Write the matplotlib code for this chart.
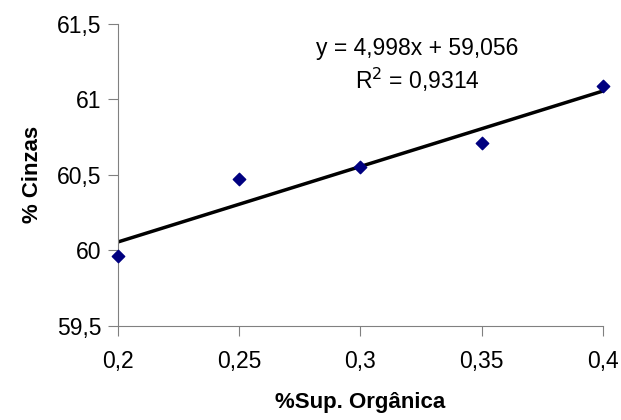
import matplotlib
matplotlib.use("Agg")
import matplotlib.pyplot as plt
import numpy as np

plt.rcParams["font.family"] = ["Liberation Sans", "DejaVu Sans"]

sup_organica = [0.2, 0.25, 0.3, 0.35, 0.4]
cinzas = [59.96, 60.47, 60.55, 60.71, 61.09]
x_ticks = [0.2, 0.25, 0.3, 0.35, 0.4]
x_labels = ["0,2", "0,25", "0,3", "0,35", "0,4"]
y_ticks = [59.5, 60, 60.5, 61, 61.5]
y_labels = ["59,5", "60", "60,5", "61", "61,5"]

slope, intercept = np.polyfit(sup_organica, cinzas, 1)
xs = np.array([sup_organica[0], sup_organica[-1]])

fig = plt.figure(figsize=(6.21, 4.2), dpi=100)
ax = fig.add_axes([0.19, 0.224, 0.781, 0.719])

ax.plot(xs, slope * xs + intercept, color="black", linewidth=2.5, zorder=2)
ax.scatter(sup_organica, cinzas, marker="D", s=40, color="#000080", zorder=3, clip_on=False)

ax.set_xlim(0.2, 0.4)
ax.set_ylim(59.5, 61.5)
ax.set_xticks(x_ticks)
ax.set_xticklabels(x_labels)
ax.set_yticks(y_ticks)
ax.set_yticklabels(y_labels)

for s in ["top", "right"]:
    ax.spines[s].set_visible(False)
for s in ["left", "bottom"]:
    ax.spines[s].set_color("#808080")
ax.tick_params(direction="out", length=7, color="#808080", labelsize=16.5, pad=5)
ax.tick_params(axis="x", pad=10)

ax.set_xlabel("%Sup. Orgânica", fontsize=16, fontweight="bold", labelpad=14)
ax.set_ylabel("% Cinzas", fontsize=16, fontweight="bold", labelpad=10)

ax.text(0.3235, 61.34, "y = 4,998x + 59,056", ha="center", va="center", fontsize=16.5)
ax.text(0.3235, 61.13, "R$^2$ = 0,9314", ha="center", va="center", fontsize=16.5)

fig.savefig("out.png", dpi=100)
plt.close(fig)
